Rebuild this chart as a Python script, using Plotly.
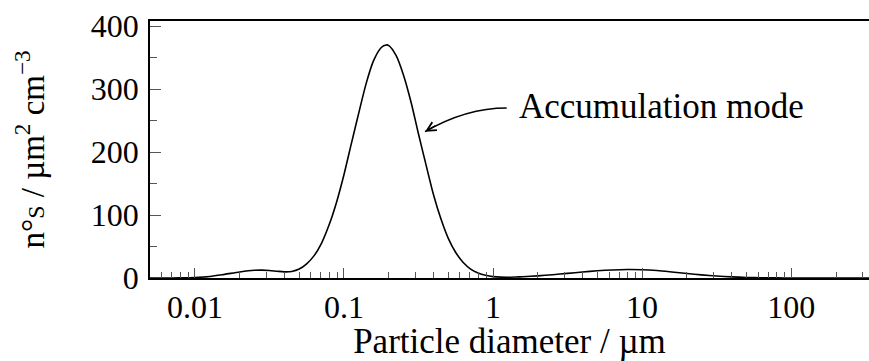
import math
import plotly.graph_objects as go

# ---- data ----
diameter_um = [0.005, 0.00631, 0.00794, 0.01, 0.0126, 0.0158, 0.02, 0.0251, 0.0282, 0.0316,
               0.0355, 0.0398, 0.0447, 0.0501, 0.0562, 0.0631, 0.0708, 0.0794, 0.0891, 0.1,
               0.112, 0.126, 0.141, 0.158, 0.178, 0.192, 0.2, 0.224, 0.251, 0.282,
               0.316, 0.355, 0.398, 0.447, 0.501, 0.562, 0.631, 0.708, 0.794, 0.891,
               1.0, 1.12, 1.26, 1.41, 1.58, 2.0, 2.51, 3.16, 3.98, 5.01,
               6.31, 7.94, 10, 12.6, 15.8, 20, 25.1, 31.6, 39.8, 50.1,
               63.1, 79.4, 100, 158, 251, 339]
surface_density = [0.0, 0.0, 0.2, 0.8, 2.5, 5.8, 9.6, 12.2, 12.5, 11.9,
                   10.8, 9.8, 10.4, 14.2, 22.5, 35.5, 55.5, 84, 120, 164,
                   213, 263, 309, 345, 366, 370, 369, 353, 322, 279,
                   229, 180, 133, 94, 63, 40.5, 24.6, 14.2, 8.0, 4.3,
                   2.2, 1.4, 1.2, 1.5, 2.0, 3.4, 5.2, 7.3, 9.5, 11.4,
                   12.8, 13.5, 13.2, 11.8, 9.6, 7.1, 4.9, 3.1, 1.8, 0.9,
                   0.4, 0.15, 0.05, 0.0, 0.0, 0.0]

x_tick_vals = [0.01, 0.1, 1, 10, 100]
x_tick_text = ["0.01", "0.1", "1", "10", "100"]
x_minor_vals = [m * 10.0 ** e for e in range(-3, 3) for m in range(2, 10)]
y_tick_vals = [0, 100, 200, 300, 400]
y_tick_text = ["0", "100", "200", "300", "400"]
y_minor_vals = [50, 150, 250, 350]

annotation_text = "Accumulation mode"
x_title = "Particle diameter / µm"
y_title = "n°<span style='font-size:24px'>S</span> / µm<sup>2</sup> cm<sup>−3</sup>"

FONT = "Liberation Serif"
W, H = 869, 361
ML, MR, MT, MB = 150, 0, 21, 83
PW, PH = W - ML - MR, H - MT - MB


def px_to_paper(px, py):
    return (px - ML) / PW, (H - MB - py) / PH


fig = go.Figure()
fig.add_trace(go.Scatter(
    x=diameter_um, y=surface_density, mode="lines",
    line=dict(color="black", width=1.6, shape="spline", smoothing=0.8),
    showlegend=False, hoverinfo="skip"))

tickcol = "#555555"
fig.update_xaxes(
    type="log", range=[math.log10(0.005), 2.522],
    tickmode="array", tickvals=x_tick_vals, ticktext=x_tick_text,
    ticks="inside", ticklen=10, tickwidth=1, tickcolor=tickcol,
    minor=dict(tickmode="array", tickvals=x_minor_vals, ticks="inside",
               ticklen=6, tickwidth=1, tickcolor=tickcol, showgrid=False),
    showline=True, linecolor="black", linewidth=1.6, mirror=True,
    showgrid=False, zeroline=False,
    tickfont=dict(family=FONT, size=32, color="black"),
    title=dict(text=x_title, font=dict(family=FONT, size=35, color="black"), standoff=4),
)
fig.update_yaxes(
    range=[0, 408],
    tickmode="array", tickvals=y_tick_vals, ticktext=y_tick_text,
    ticks="inside", ticklen=11, tickwidth=1, tickcolor=tickcol,
    minor=dict(tickmode="array", tickvals=y_minor_vals, ticks="inside",
               ticklen=7, tickwidth=1, tickcolor=tickcol, showgrid=False),
    showline=True, linecolor="black", linewidth=1.6, mirror=False,
    showgrid=False, zeroline=False, ticklabelstandoff=3,
    tickfont=dict(family=FONT, size=32, color="black"),
    title=dict(text=y_title, font=dict(family=FONT, size=33, color="black"), standoff=36),
)

# curved arrow (decoration)
tx, ty = px_to_paper(506.7, 108)
cx, cy = px_to_paper(466, 108)
hx, hy = px_to_paper(425, 131.7)
fig.add_shape(type="path", xref="paper", yref="paper",
              path=f"M {tx},{ty} Q {cx},{cy} {hx},{hy}",
              line=dict(color="black", width=1.5))
fig.add_annotation(xref="paper", yref="paper", x=hx, y=hy, ax=12, ay=-7,
                   text="", showarrow=True, arrowhead=5, arrowsize=1.2,
                   arrowwidth=1.5, arrowcolor="black")
lx, ly = px_to_paper(517, 106)
fig.add_annotation(xref="paper", yref="paper", x=lx, y=ly, xanchor="left", yanchor="middle",
                   text=annotation_text, showarrow=False,
                   font=dict(family=FONT, size=35, color="black"))

fig.update_layout(width=W, height=H, margin=dict(l=ML, r=MR, t=MT, b=MB),
                  font=dict(family=FONT, color="black"),
                  paper_bgcolor="white", plot_bgcolor="white")
fig.write_html("out.html")
